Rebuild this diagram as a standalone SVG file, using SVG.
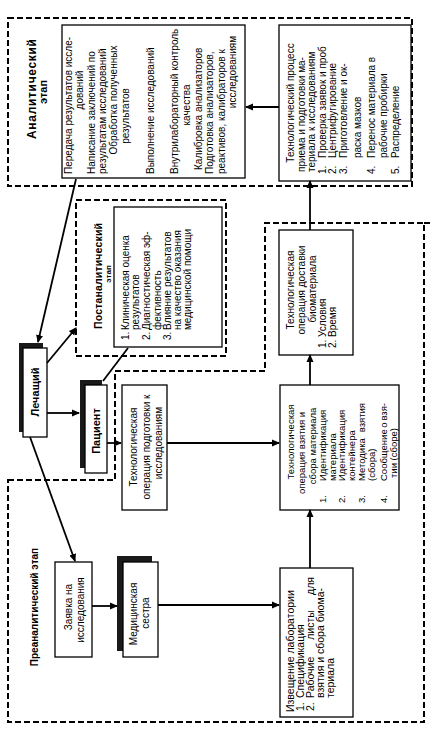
<svg xmlns="http://www.w3.org/2000/svg" width="441" height="729" viewBox="0 0 441 729">
<style>
.t{font-family:"Liberation Sans",Arial,sans-serif;font-size:10px;fill:#000}
.b{font-weight:bold}
.m{text-anchor:middle}
.e{text-anchor:end}
.f8{font-size:8px}
.f95{font-size:9.5px}
.f105{font-size:10.5px}
.f11{font-size:11px}
.f12{font-size:12px}
.box{fill:#fff;stroke:#000;stroke-width:1.3}
.dash{fill:none;stroke:#000;stroke-width:2;stroke-dasharray:6 3}
.sh{fill:#1a1a1a}
.c{fill:none;stroke:#000;stroke-width:1.8}
.a{marker-end:url(#ah)}
</style>
<defs>
<marker id="ah" markerWidth="8" markerHeight="8" refX="7" refY="4" orient="auto" markerUnits="userSpaceOnUse"><path d="M0,0.5 L8,4 L0,7.5 z" fill="#000"/></marker>
</defs>
<rect x="0" y="0" width="441" height="729" fill="#fff"/>

<g id="analytic-stage">
<rect class="dash" x="8" y="18" width="404" height="168"/>
<g transform="rotate(-90)">
<text class="t b m f12" x="-89" y="36" textLength="100">Аналитический</text>
<text class="t b m f11" x="-92" y="47">этап</text>
</g>
</g>

<g id="postanalytic-stage">
<rect class="dash" x="76" y="200" width="150" height="156"/>
<g transform="rotate(-90)">
<text class="t b m f105" x="-276" y="101.5" textLength="106">Постаналитический</text>
<text class="t b m f8" x="-274" y="111">этап</text>
</g>
</g>

<g id="preanalytic-stage">
<path class="dash" d="M424 223 H432 M8 480 H115 V371 H265 V223 H424 V722 H8 Z"/>
<g transform="rotate(-90)">
<text class="t b m" x="-607" y="38">Преаналитический этап</text>
</g>
</g>

<g id="analytic-results">
<rect class="box" x="62" y="25" width="183" height="153"/>
<g transform="rotate(-90)">
<text class="t" x="-174" y="71.5">Передача результатов иссле-</text>
<text class="t m" x="-90" y="83">дований</text>
<text class="t" x="-174" y="95">Написание заключений по</text>
<text class="t" x="-174" y="106">результатам исследований</text>
<text class="t m" x="-100" y="117">Обработка полученных</text>
<text class="t m" x="-116" y="129">результатов</text>
<text class="t" x="-174" y="153.5">Выполнение исследований</text>
<text class="t" x="-174" y="177.5">Внутрилабораторный контроль</text>
<text class="t m" x="-105" y="189.5">качества</text>
<text class="t" x="-170" y="201.5">Калибровка анализаторов</text>
<text class="t" x="-174" y="212.5">Подготовка анализаторов,</text>
<text class="t" x="-174" y="224.5">реактивов, калибраторов к</text>
<text class="t m" x="-72" y="235.5">исследованиям</text>
</g>
</g>

<g id="reception-process">
<rect class="box" x="279" y="25" width="132" height="156"/>
<g transform="rotate(-90)">
<text class="t m" x="-103" y="293.5">Технологический процесс</text>
<text class="t" x="-172" y="304.5">приема и подготовки ма-</text>
<text class="t" x="-172" y="314.5">териала к исследованиям</text>
<text class="t" x="-174" y="325.5">1.</text><text class="t" x="-158" y="325.5">Проверка заявок и проб</text>
<text class="t" x="-174" y="335.5">2.</text><text class="t" x="-158" y="335.5">Центрифугирование</text>
<text class="t" x="-174" y="346.5">3.</text><text class="t" x="-158" y="346.5">Приготовление и ок-</text>
<text class="t" x="-158" y="360.5">раска мазков</text>
<text class="t" x="-174" y="374.5">4.</text><text class="t" x="-158" y="374.5">Перенос материала в</text>
<text class="t" x="-158" y="386.5">рабочие пробирки</text>
<text class="t" x="-174" y="398.5">5.</text><text class="t" x="-158" y="398.5">Распределение</text>
</g>
</g>

<g id="delivery">
<rect class="box" x="279" y="230" width="74" height="125"/>
<g transform="rotate(-90)">
<text class="t m" x="-290" y="293.5">Технологическая</text>
<text class="t m" x="-290" y="304.5">операция доставки</text>
<text class="t m" x="-289" y="315.5">биоматериала</text>
<text class="t" x="-348" y="325.5">1.</text><text class="t" x="-337" y="325.5">Условия</text>
<text class="t" x="-348" y="335.5">2.</text><text class="t" x="-337" y="335.5">Время</text>
</g>
</g>

<g id="collection">
<rect class="box" x="280" y="385" width="119" height="125"/>
<g transform="rotate(-90)">
<text class="t m f95" x="-442" y="293.5">Технологическая</text>
<text class="t m f95" x="-453" y="304.5">операция взятия и</text>
<text class="t m f95" x="-446" y="315.5">сбора материала</text>
<text class="t f95" x="-503" y="325.5">1.</text><text class="t f95" x="-481" y="325.5">Идентификация</text>
<text class="t f95" x="-481" y="335.5">материала</text>
<text class="t f95" x="-503" y="344.5">2.</text><text class="t f95" x="-481" y="344.5">Идентификация</text>
<text class="t f95" x="-481" y="354.5">контейнера</text>
<text class="t f95" x="-503" y="364.5">3.</text><text class="t f95" x="-481" y="364.5">Методика</text><text class="t e f95" x="-403" y="364.5">взятия</text>
<text class="t f95" x="-481" y="374.5">(сбора)</text>
<text class="t f95" x="-503" y="386.5">4.</text><text class="t f95" x="-481" y="386.5">Сообщение</text><text class="t m f95" x="-425" y="386.5">о</text><text class="t e f95" x="-403" y="386.5">взя-</text>
<text class="t f95" x="-478" y="396.5">тии (сборе)</text>
</g>
</g>

<g id="lab-notice">
<rect class="box" x="280" y="568" width="73" height="149"/>
<g transform="rotate(-90)">
<text class="t f105" x="-712" y="293.5">Извещение лаборатории</text>
<text class="t f105" x="-711" y="303.5">1.</text><text class="t f105" x="-698" y="303.5">Спецификация</text>
<text class="t f105" x="-711" y="313.5">2.</text><text class="t f105" x="-698" y="313.5">Рабочие</text><text class="t m f105" x="-625" y="313.5">листы</text><text class="t e f105" x="-577" y="313.5">для</text>
<text class="t f105" x="-698" y="323.5">взятия и сбора биома-</text>
<text class="t f105" x="-698" y="333.5">териала</text>
</g>
</g>

<g id="preparation">
<rect class="box" x="122" y="385" width="45" height="125"/>
<g transform="rotate(-90)">
<text class="t m" x="-447" y="136.5">Технологическая</text>
<text class="t m" x="-447" y="149.5">операция подготовки к</text>
<text class="t m" x="-443" y="161.5">исследованиям</text>
</g>
</g>

<g id="request">
<rect class="box" x="55" y="562" width="37" height="95"/>
<g transform="rotate(-90)">
<text class="t m" x="-607" y="71.5">Заявка на</text>
<text class="t m" x="-610" y="83.5">исследования</text>
</g>
</g>

<g id="nurse">
<rect class="sh" x="117" y="556" width="35" height="95"/>
<rect class="box" x="123" y="562" width="35" height="95"/>
<g transform="rotate(-90)">
<text class="t m" x="-614" y="136.5">Медицинская</text>
<text class="t m" x="-613" y="148.5">сестра</text>
</g>
</g>

<g id="doctor">
<rect class="sh" x="19" y="343" width="24" height="89"/>
<rect class="box" x="23" y="348" width="24" height="89"/>
<g transform="rotate(-90)">
<text class="t b m f11" x="-392" y="39">Лечащий</text>
</g>
</g>

<g id="patient">
<rect class="sh" x="80" y="380" width="22" height="88"/>
<rect class="box" x="85" y="385" width="22" height="88"/>
<g transform="rotate(-90)">
<text class="t b m f11" x="-431" y="100">Пациент</text>
</g>
</g>

<g id="postanalytic-list">
<rect class="box" x="114" y="207" width="108" height="140"/>
<g transform="rotate(-90)">
<text class="t" x="-340" y="128.5">1.</text><text class="t" x="-330" y="128.5">Клиническая оценка</text>
<text class="t" x="-330" y="138.5">результатов</text>
<text class="t" x="-340" y="149.5">2.</text><text class="t" x="-330" y="149.5">Диагностическая эф-</text>
<text class="t" x="-330" y="160.5">фективность</text>
<text class="t" x="-340" y="170.5">3.</text><text class="t" x="-330" y="170.5">Влияние результатов</text>
<text class="t" x="-330" y="180.5">на качество оказания</text>
<text class="t" x="-330" y="190.5">медицинской помощи</text>
</g>
</g>

<g id="connectors">
<line class="c a" x1="279" y1="107" x2="246" y2="107"/>
<line class="c a" x1="310" y1="230" x2="310" y2="181"/>
<line class="c a" x1="310" y1="385" x2="310" y2="355"/>
<line class="c a" x1="310" y1="568" x2="310" y2="510"/>
<line class="c a" x1="158" y1="605" x2="279" y2="605"/>
<line class="c a" x1="92" y1="606" x2="117" y2="606"/>
<line class="c a" x1="167" y1="443" x2="279" y2="443"/>
<line class="c a" x1="107" y1="443" x2="121" y2="443"/>
<line class="c a" x1="47" y1="413" x2="79" y2="413"/>
<line class="c a" x1="47" y1="363" x2="76" y2="328"/>
<line class="c a" x1="76" y1="179" x2="38" y2="342"/>
<line class="c a" x1="30" y1="437" x2="75" y2="561"/>
<line class="c" x1="103" y1="381" x2="128" y2="348"/>
</g>
</svg>
